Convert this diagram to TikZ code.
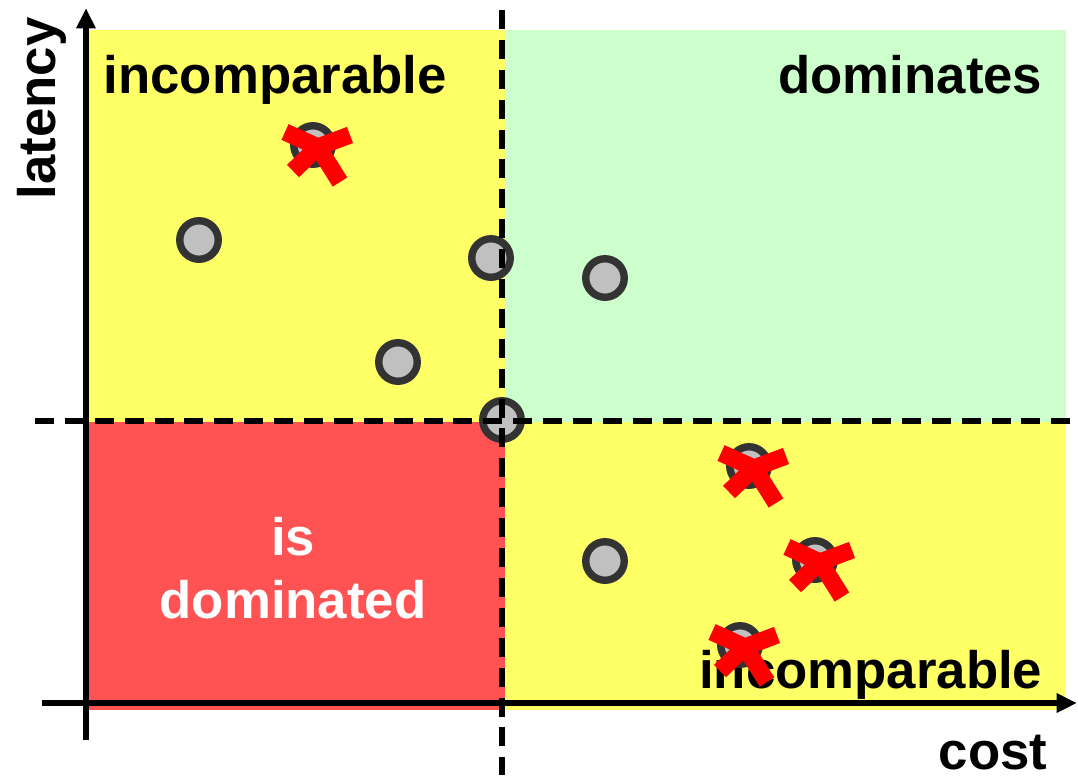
\documentclass[tikz,border=0pt]{standalone}
\usepackage{fontspec}
\setmainfont{Liberation Sans}
\usepackage{tikz}
\definecolor{zoneyellow}{RGB}{255,255,102}
\definecolor{zonegreen}{RGB}{204,255,204}
\definecolor{zonered}{RGB}{255,82,82}
\definecolor{ringgray}{RGB}{51,51,51}
\definecolor{dotgray}{RGB}{192,192,192}
\tikzset{
    paretopoint/.style={circle, draw=ringgray, fill=dotgray, line width=2.1pt, inner sep=0pt, minimum size=0.385cm},
    axisline/.style={line width=1.6pt, -{Triangle[length=5.8pt, width=5.2pt]}},
    splitline/.style={line width=1.6pt, dash pattern=on 5.4pt off 3.1pt},
    zonelabel/.style={font=\bfseries\fontsize{15}{18}\selectfont, inner sep=0pt},
    rejectmark/.style={draw=red, line width=4.9pt}
}
\usetikzlibrary{arrows.meta}
\newcommand{\rejectat}[1]{%
    \draw[rejectmark, shift={(#1)}] (-28,-13) -- (5,2) -- (27,37) (-20,26) -- (5,2) -- (37,-10);}

\begin{document}
\begin{tikzpicture}[x=0.01cm, y=-0.01cm]
    \useasboundingbox (0,0) rectangle (1078,775);
    % zones
    \fill[zoneyellow] (84,30) rectangle (505,422);
    \fill[zonegreen] (505,30) rectangle (1066,422);
    \fill[zonered] (84,422) rectangle (505,710);
    \fill[zoneyellow] (505,422) rectangle (1066,710);
    \node[zonelabel, anchor=base west] (tlzone) at (103,93) {incomparable};
    \node[zonelabel, anchor=base east] (trzone) at (1043,93) {dominates};
    \node[zonelabel, anchor=base, text=white] (blzone1) at (293,555) {is};
    \node[zonelabel, anchor=base, text=white] (blzone2) at (293,618) {dominated};
    \node[zonelabel, anchor=base east] (brzone) at (1043,688) {incomparable};
    % axes
    \coordinate (ybot) at (86,740);
    \coordinate (ytop) at (86,8);
    \coordinate (xleft) at (42,703);
    \coordinate (xright) at (1077,703);
    \draw[axisline] (ybot) -- (ytop);
    \draw[axisline] (xleft) -- (xright);
    \node[zonelabel, anchor=base west, rotate=90] (ylab) at (55,200) {latency};
    \node[zonelabel, anchor=base east] (xlab) at (1048,769) {cost};
    % points
    \node[paretopoint] (p1) at (313,145) {};
    \node[paretopoint] (p2) at (199,240) {};
    \node[paretopoint] (p3) at (491,258) {};
    \node[paretopoint] (p4) at (605,278) {};
    \node[paretopoint] (p5) at (398,362) {};
    \node[paretopoint] (p6) at (502,420) {};
    \node[paretopoint] (p7) at (749,466) {};
    \node[paretopoint] (p8) at (605,561) {};
    \node[paretopoint] (p9) at (815,560) {};
    \node[paretopoint] (p10) at (740,645) {};
    % split lines through p6
    \coordinate (vtop) at (502,10);
    \coordinate (vbot) at (502,775);
    \coordinate (hleft) at (35,421);
    \coordinate (hright) at (1078,421);
    \draw[splitline] (vtop) -- (vbot);
    \draw[splitline] (hleft) -- (hright);
    % rejected points
    \rejectat{p1}
    \rejectat{p7}
    \rejectat{p9}
    \rejectat{p10}
\end{tikzpicture}
\end{document}
